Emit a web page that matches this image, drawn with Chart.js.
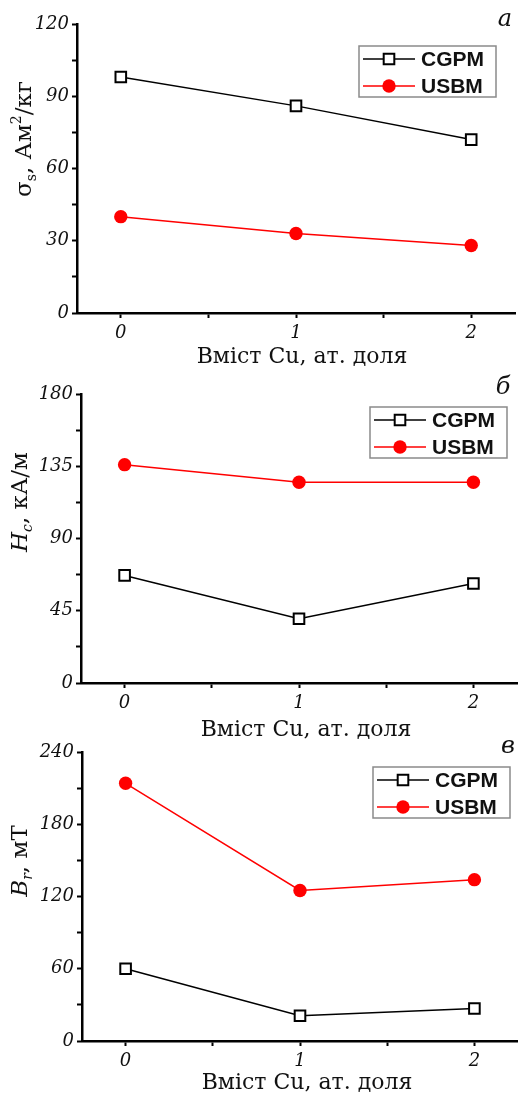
<!DOCTYPE html>
<html>
<head>
<meta charset="utf-8">
<script src="https://cdn.jsdelivr.net/npm/chart.js@4.4.1/dist/chart.umd.min.js"></script>
<style>
  body { margin: 0; background: #fff; width: 518px; }
  canvas { display: block; }
</style>
</head>
<body>
<canvas id="chA" width="518" height="370"></canvas>
<canvas id="chB" width="518" height="370"></canvas>
<canvas id="chC" width="518" height="354"></canvas>
<script>
// data
var cuContent = [0, 1, 2];
var xTicks = [0, 0.5, 1, 1.5, 2];
var seriesNames = ["CGPM", "USBM"];

var sigmaCGPM = [98, 86, 72];
var sigmaUSBM = [40, 33, 28];
var sigmaTicks = [0, 15, 30, 45, 60, 75, 90, 105, 120];

var hcCGPM = [67, 40, 62];
var hcUSBM = [136, 125, 125];
var hcTicks = [0, 22.5, 45, 67.5, 90, 112.5, 135, 157.5, 180];

var brCGPM = [60, 21, 27];
var brUSBM = [214, 125, 134];
var brTicks = [0, 30, 60, 90, 120, 150, 180, 210, 240];

var xTitle = "Вміст Cu, ат. доля";

var serif = "'DejaVu Serif', 'Liberation Serif', serif";
var sans = "'Liberation Sans', Arial, sans-serif";

function pts(vals) {
  return vals.map(function (v, i) { return { x: cuContent[i], y: v }; });
}

function partFont(kind, size) {
  var italic = kind.indexOf("i") >= 0 ? "italic " : "";
  var s = (kind.indexOf("sub") === 0 || kind === "sup") ? Math.round(size * 0.62) : size;
  return italic + s + "px " + serif;
}

// draws the rotated y title with sub/superscripts
function drawRich(ctx, parts, cx, cy, size) {
  var w = 0;
  parts.forEach(function (p) {
    ctx.font = partFont(p[1], size);
    w += ctx.measureText(p[0]).width;
  });
  ctx.save();
  ctx.translate(cx, cy);
  ctx.rotate(-Math.PI / 2);
  ctx.textAlign = "left";
  ctx.textBaseline = "middle";
  var x = -w / 2;
  parts.forEach(function (p) {
    ctx.font = partFont(p[1], size);
    var dy = 0;
    if (p[1].indexOf("sub") === 0) dy = size * 0.3;
    if (p[1] === "sup") dy = -size * 0.35;
    ctx.fillText(p[0], x, dy);
    x += ctx.measureText(p[0]).width;
  });
  ctx.restore();
}

var annotPlugin = {
  id: "annot",
  afterDraw: function (chart, args, o) {
    var ctx = chart.ctx;
    ctx.save();
    ctx.fillStyle = "#111";
    drawRich(ctx, o.yTitle, o.yTitlePos[0], o.yTitlePos[1], 23);

    ctx.font = "22px " + serif;
    ctx.textAlign = "center";
    ctx.textBaseline = "middle";
    ctx.fillText(xTitle, o.xTitlePos[0], o.xTitlePos[1]);

    ctx.font = "italic 24px " + serif;
    ctx.fillText(o.letter, o.letterPos[0], o.letterPos[1]);

    // legend box
    var L = o.legend;
    ctx.strokeStyle = "#8a8a8a";
    ctx.lineWidth = 1.5;
    ctx.strokeRect(L[0], L[1], 137, 51);
    chart.data.datasets.forEach(function (ds, i) {
      var ry = L[1] + 13 + i * 27;
      ctx.strokeStyle = ds.borderColor;
      ctx.lineWidth = ds.borderWidth;
      ctx.beginPath();
      ctx.moveTo(L[0] + 4, ry);
      ctx.lineTo(L[0] + 56, ry);
      ctx.stroke();
      var mx = L[0] + 30;
      ctx.beginPath();
      if (ds.pointStyle === "rect") {
        var h = ds.pointRadius * Math.SQRT1_2;
        ctx.rect(mx - h, ry - h, 2 * h, 2 * h);
      } else {
        ctx.arc(mx, ry, ds.pointRadius, 0, Math.PI * 2);
      }
      ctx.fillStyle = ds.pointBackgroundColor;
      ctx.fill();
      if (ds.pointBorderWidth > 0) {
        ctx.strokeStyle = ds.pointBorderColor;
        ctx.lineWidth = ds.pointBorderWidth;
        ctx.stroke();
      }
      ctx.fillStyle = "#111";
      ctx.font = "bold 21px " + sans;
      ctx.textAlign = "left";
      ctx.fillText(ds.label, L[0] + 62, ry + 1);
    });
    ctx.restore();
  }
};

function makePanel(id, cgpm, usbm, yTicks, g) {
  return new Chart(document.getElementById(id), {
    type: "line",
    data: {
      datasets: [
        {
          label: seriesNames[0],
          data: pts(cgpm),
          borderColor: "#000",
          borderWidth: 1.5,
          pointStyle: "rect",
          pointRadius: 7.5,
          pointBorderWidth: 2,
          pointBackgroundColor: "#fff",
          pointBorderColor: "#000",
        },
        {
          label: seriesNames[1],
          data: pts(usbm),
          borderColor: "#ff0000",
          borderWidth: 1.5,
          pointStyle: "circle",
          pointRadius: 6.7,
          pointBorderWidth: 0,
          pointBackgroundColor: "#ff0000",
          pointBorderColor: "#ff0000",
        },
      ],
    },
    options: {
      responsive: false,
      animation: false,
      layout: { autoPadding: false, padding: { top: g.top, right: g.right, left: 0, bottom: 0 } },
      scales: {
        x: {
          type: "linear",
          min: -0.25,
          max: 2.25,
          afterBuildTicks: function (s) { s.ticks = xTicks.map(function (v) { return { value: v }; }); },
          afterFit: function (s) { s.height = g.xh; s.paddingLeft = 0; s.paddingRight = 0; },
          grid: { drawOnChartArea: false, tickLength: 5, tickWidth: 2, tickColor: "#000" },
          border: { color: "#000", width: 2.5 },
          ticks: {
            autoSkip: false,
            maxRotation: 0,
            padding: 6,
            color: "#111",
            font: { family: serif, size: 18, style: "italic", lineHeight: 1 },
            callback: function (v) { return Number.isInteger(v) ? String(v) : ""; },
          },
        },
        y: {
          min: yTicks[0],
          max: yTicks[yTicks.length - 1],
          afterBuildTicks: function (s) { s.ticks = yTicks.map(function (v) { return { value: v }; }); },
          afterFit: function (s) { s.width = g.yw; s.paddingTop = 0; s.paddingBottom = 0; },
          grid: { drawOnChartArea: false, tickLength: 5, tickWidth: 2, tickColor: "#000" },
          border: { color: "#000", width: 2.5 },
          ticks: {
            autoSkip: false,
            padding: 3,
            color: "#111",
            font: { family: serif, size: 18, style: "italic", lineHeight: 1 },
            callback: function (v, i) { return i % 2 === 0 ? String(v) : ""; },
          },
        },
      },
      plugins: {
        legend: { display: false },
        tooltip: { enabled: false },
        annot: g.annot,
      },
    },
    plugins: [annotPlugin],
  });
}

makePanel("chA", sigmaCGPM, sigmaUSBM, sigmaTicks, {
  top: 24, right: 3, xh: 57, yw: 77,
  annot: {
    yTitle: [["σ", ""], ["s", "sub"], [", Ам", ""], ["2", "sup"], ["/кг", ""]],
    yTitlePos: [25, 139],
    xTitlePos: [302, 357],
    letter: "а", letterPos: [505, 20],
    legend: [359, 46],
  },
});

makePanel("chB", hcCGPM, hcUSBM, hcTicks, {
  top: 24, right: 1, xh: 57, yw: 81,
  annot: {
    yTitle: [["H", "i"], ["c", "subi"], [", кА/м", ""]],
    yTitlePos: [21, 132],
    xTitlePos: [306, 360],
    letter: "б", letterPos: [503, 18],
    legend: [370, 37],
  },
});

makePanel("chC", brCGPM, brUSBM, brTicks, {
  top: 12, right: 0, xh: 53, yw: 82,
  annot: {
    yTitle: [["B", "i"], ["r", "subi"], [", мТ", ""]],
    yTitlePos: [21, 121],
    xTitlePos: [307, 343],
    letter: "в", letterPos: [508, 7],
    legend: [373, 27],
  },
});
</script>
</body>
</html>
